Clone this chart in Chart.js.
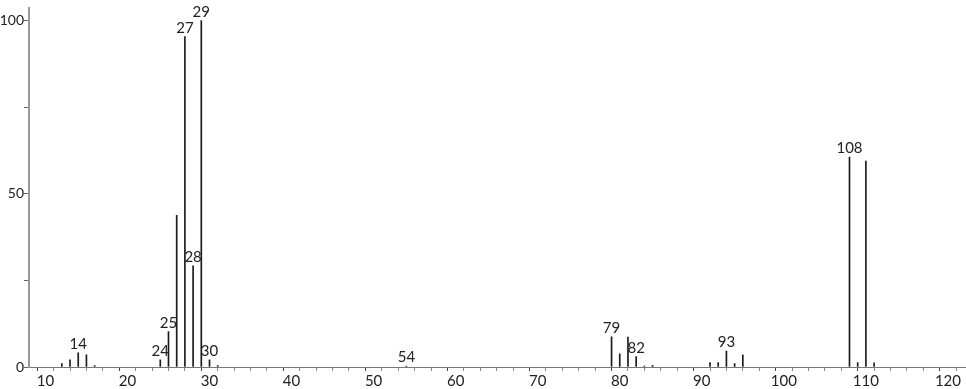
<!DOCTYPE html>
<html>
<head>
<meta charset="utf-8">
<script src="https://cdn.jsdelivr.net/npm/chart.js@4"></script>
<style>
  html, body { margin: 0; padding: 0; background: #fff; }
  #wrap { width: 966px; height: 389px; }
</style>
</head>
<body>
<div id="wrap"><canvas id="spec"></canvas></div>
<script>
// m/z values and relative intensities
const mz = [12, 13, 14, 15, 16, 24, 25, 26, 27, 28, 29, 30, 31, 54,
            79, 80, 81, 82, 83, 84, 91, 92, 93, 94, 95, 108, 109, 110, 111];
const intensity = [1.0, 2.1, 4.1, 3.5, 0.4, 2.1, 10.2, 43.8, 95.4, 29.2, 100, 2.1, 0.4, 0.3,
                   8.7, 3.8, 8.6, 3.0, 0.3, 0.5, 1.3, 1.3, 4.6, 1.0, 3.5, 60.6, 1.3, 59.4, 1.2];
const labelled = [14, 24, 25, 27, 28, 29, 30, 54, 79, 82, 93, 108];
const xTickLabels = [10, 20, 30, 40, 50, 60, 70, 80, 90, 100, 110, 120];
const yTickLabels = [0, 50, 100];

const points = mz.map((m, i) => ({ x: m, y: intensity[i] }));

// writes the m/z number over the tagged peaks
const peakLabels = {
  id: 'peakLabels',
  afterDatasetsDraw(chart) {
    const c = chart.ctx;
    const meta = chart.getDatasetMeta(0);
    c.save();
    c.font = '15px Lato, sans-serif';
    c.fillStyle = '#222';
    c.textAlign = 'center';
    c.textBaseline = 'bottom';
    meta.data.forEach((bar, i) => {
      if (labelled.includes(mz[i])) {
        c.fillText(String(mz[i]), bar.x, bar.y - 1);
      }
    });
    c.restore();
  }
};

new Chart(document.getElementById('spec'), {
  type: 'bar',
  data: {
    datasets: [{
      data: points,
      backgroundColor: '#1a1a1a',
      borderWidth: 0,
      barThickness: 1
    }]
  },
  options: {
    responsive: true,
    maintainAspectRatio: false,
    animation: false,
    layout: { padding: 0 },
    plugins: {
      legend: { display: false },
      tooltip: { enabled: false }
    },
    scales: {
      x: {
        type: 'linear',
        min: 8,
        max: 122.2,
        offset: false,
        border: { color: '#777', width: 1 },
        grid: {
          drawOnChartArea: false,
          tickLength: 4,
          tickColor: ctx => (ctx.tick && xTickLabels.includes(ctx.tick.value) ? '#444' : '#888')
        },
        ticks: {
          stepSize: 2,
          autoSkip: false,
          maxRotation: 0,
          includeBounds: false,
          padding: 1,
          color: '#222',
          font: { family: 'Lato, sans-serif', size: 15 },
          callback: v => (xTickLabels.includes(v) ? String(v) : '')
        },
        afterFit: s => { s.height = 22; }
      },
      y: {
        min: 0,
        max: 103.5,
        border: { color: '#999', width: 2 },
        grid: {
          drawOnChartArea: false,
          tickLength: 5,
          tickColor: '#666'
        },
        ticks: {
          stepSize: 25,
          includeBounds: false,
          padding: 0,
          color: '#222',
          font: { family: 'Lato, sans-serif', size: 14 },
          callback: v => (yTickLabels.includes(v) ? String(v) : '')
        },
        afterFit: s => { s.width = 29; }
      }
    }
  },
  plugins: [peakLabels]
});
</script>
</body>
</html>
